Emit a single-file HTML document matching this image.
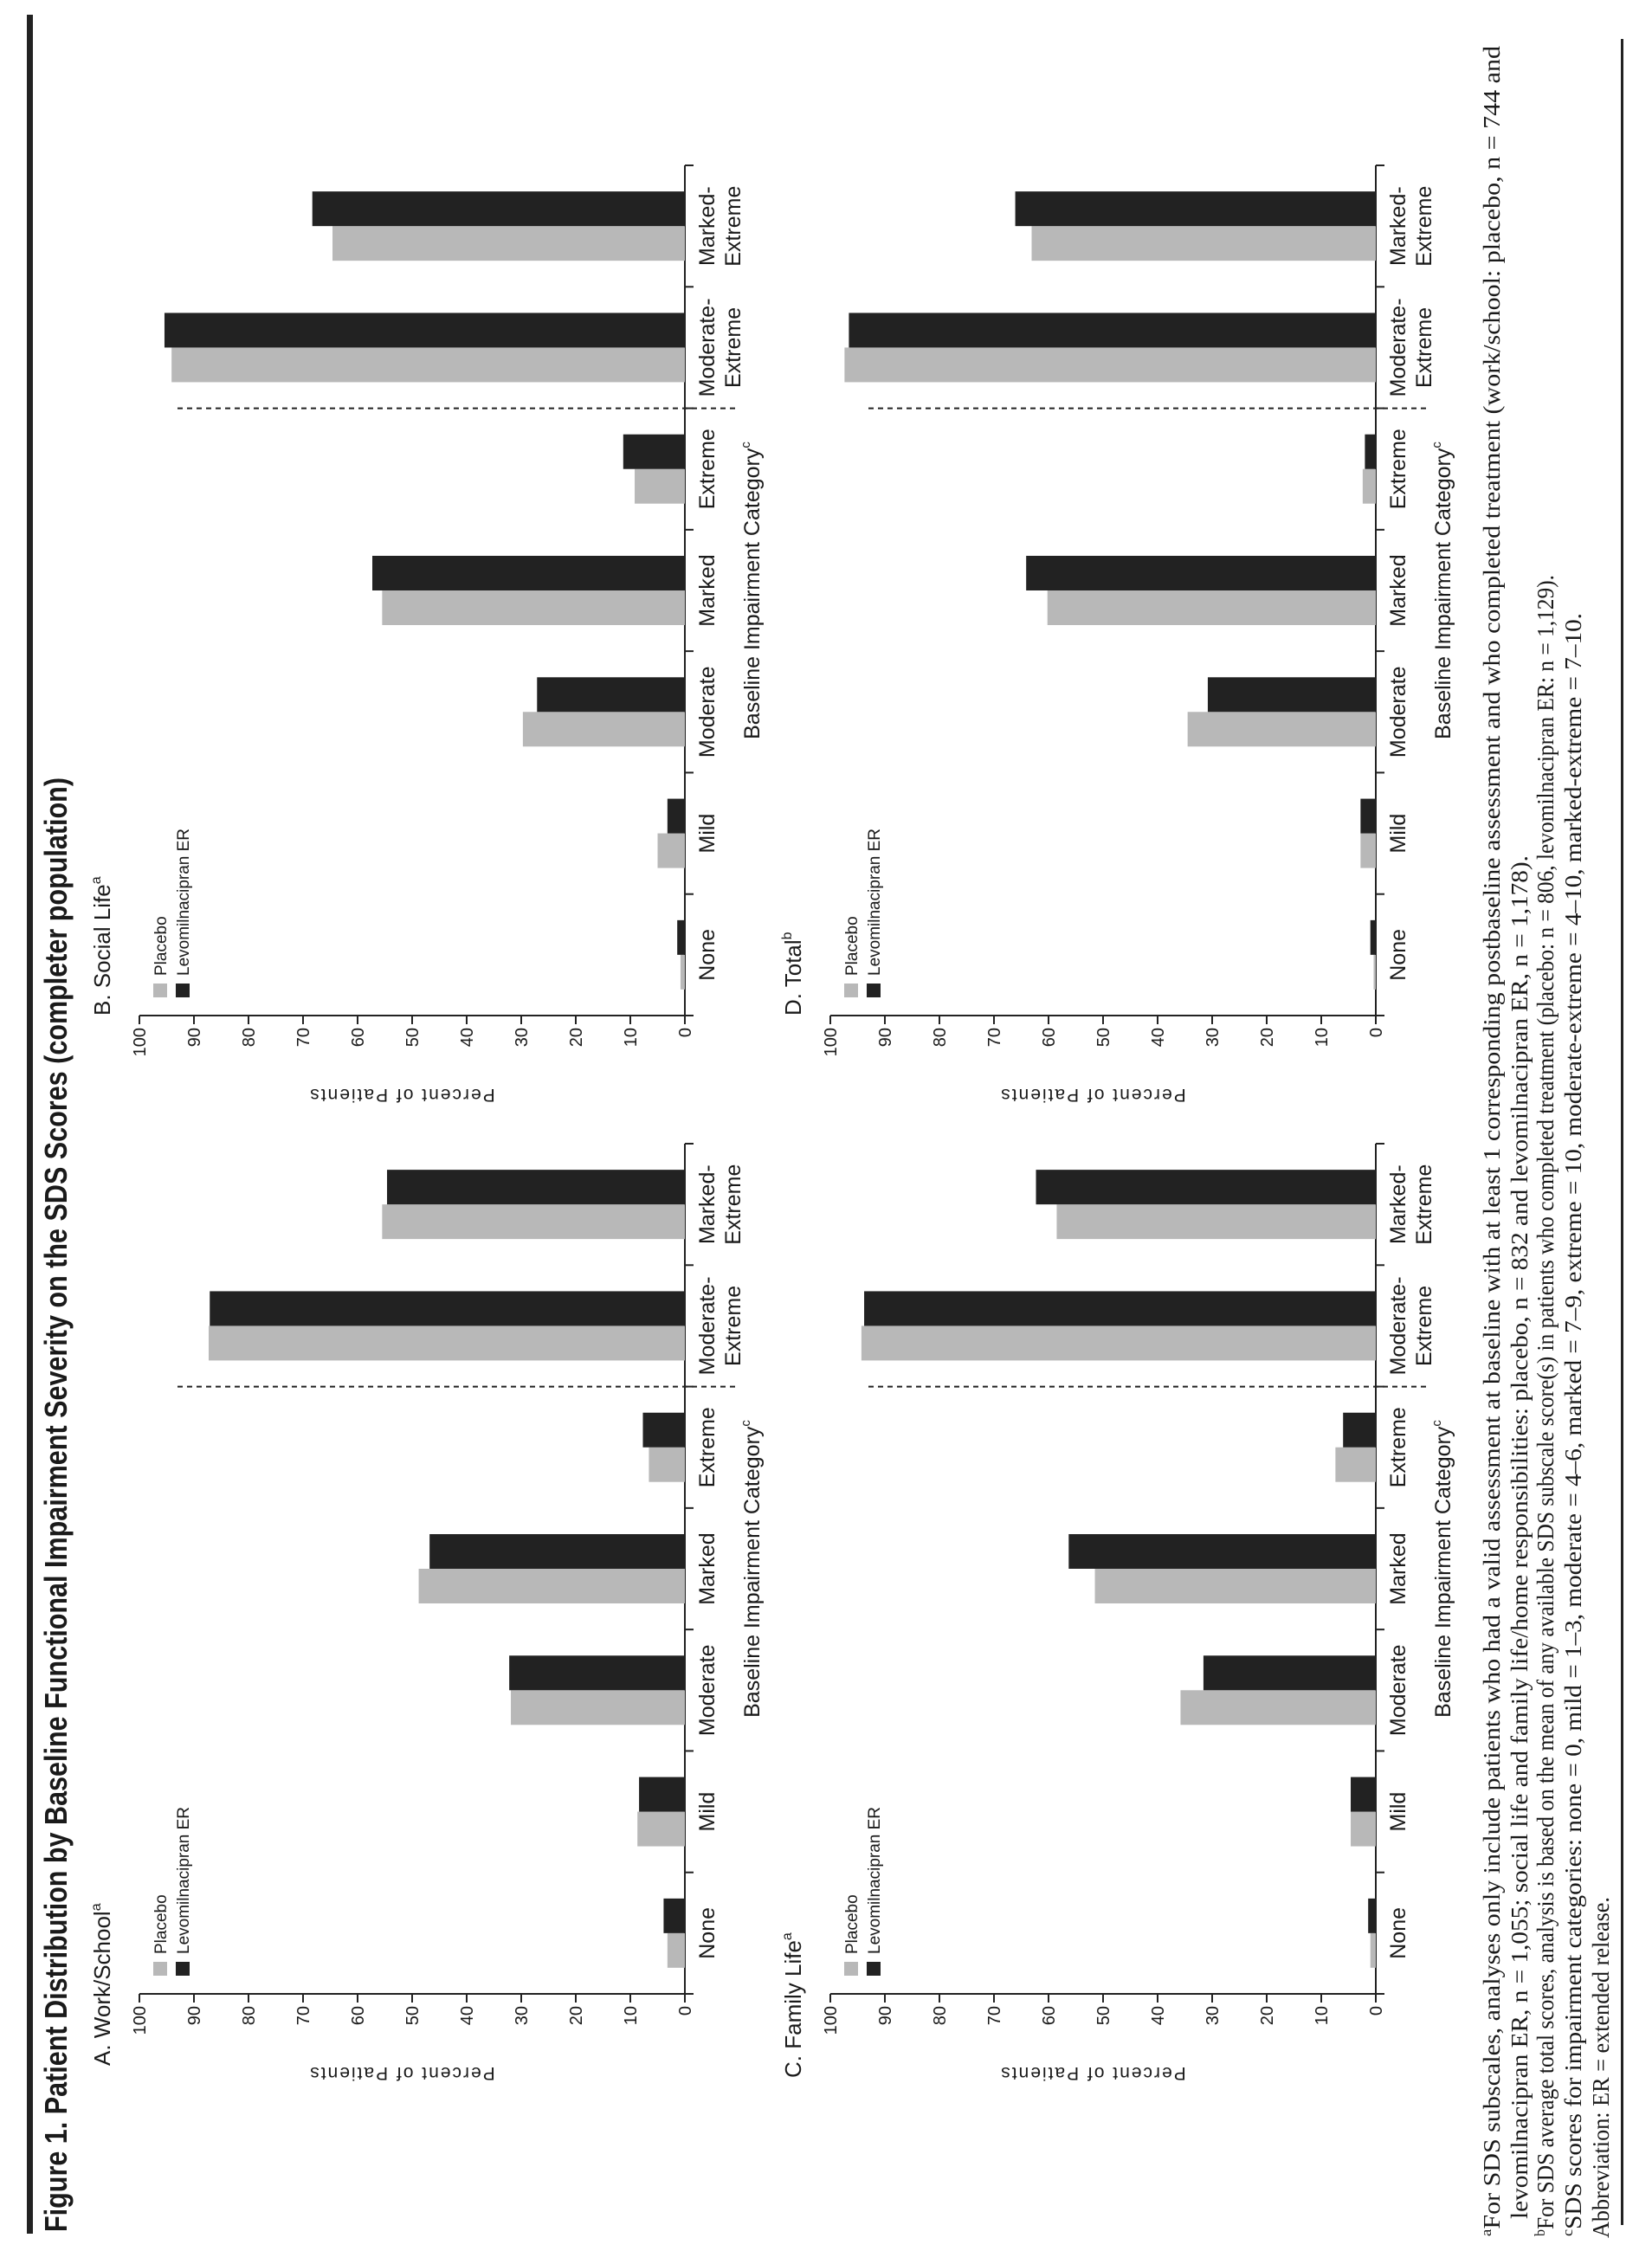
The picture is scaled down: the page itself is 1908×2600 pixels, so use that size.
<!DOCTYPE html>
<html><head><meta charset="utf-8"><style>
html,body{margin:0;padding:0;background:#fff;}
svg{display:block;}
text{font-family:"Liberation Sans",sans-serif;fill:#1a1a1a;}
.fn{font-family:"Liberation Serif",serif;font-size:27px;}
</style></head><body>
<svg id="fig" width="1908" height="2600" viewBox="0 0 1908 2600" xmlns="http://www.w3.org/2000/svg">
<g id="root" transform="matrix(0,-1,1,0,0,2600)">
<rect x="20" y="31" width="2563" height="7" fill="#222"/>
<text x="22" y="77" font-size="36" font-weight="bold" textLength="1680" lengthAdjust="spacingAndGlyphs">Figure 1. Patient Distribution by Baseline Functional Impairment Severity on the SDS Scores (completer population)</text>
<g>
<text class="fn" x="17" y="1732" textLength="2530" lengthAdjust="spacingAndGlyphs"><tspan font-size="17" dy="-10">a</tspan><tspan dy="10">For SDS subscales, analyses only include patients who had a valid assessment at baseline with at least 1 corresponding postbaseline assessment and who completed treatment (work/school: placebo, n = 744 and</tspan></text>
<text class="fn" x="37" y="1764" textLength="1575" lengthAdjust="spacingAndGlyphs">levomilnacipran ER, n = 1,055; social life and family life/home responsibilities: placebo, n = 832 and levomilnacipran ER, n = 1,178).</text>
<text class="fn" x="17" y="1794" textLength="1919" lengthAdjust="spacingAndGlyphs"><tspan font-size="17" dy="-10">b</tspan><tspan dy="10">For SDS average total scores, analysis is based on the mean of any available SDS subscale score(s) in patients who completed treatment (placebo: n = 806, levomilnacipran ER: n = 1,129).</tspan></text>
<text class="fn" x="17" y="1826" textLength="1875" lengthAdjust="spacingAndGlyphs"><tspan font-size="17" dy="-10">c</tspan><tspan dy="10">SDS scores for impairment categories: none = 0, mild = 1–3, moderate = 4–6, marked = 7–9, extreme = 10, moderate-extreme = 4–10, marked-extreme = 7–10.</tspan></text>
<text class="fn" x="15" y="1858" textLength="394" lengthAdjust="spacingAndGlyphs">Abbreviation: ER = extended release.</text>
</g>
<rect x="30" y="1872" width="2525" height="3" fill="#222"/>
</g>
</svg>
<script>
const categories = ["None","Mild","Moderate","Marked","Extreme","Moderate-|Extreme","Marked-|Extreme"];
const yTicks = [0,10,20,30,40,50,60,70,80,90,100];
const seriesNames = ["Placebo","Levomilnacipran ER"];
const workPlacebo = [3.2,8.7,31.9,48.8,6.6,87.3,55.5];
const workLevo = [3.9,8.4,32.2,46.8,7.7,87.1,54.6];
const socialPlacebo = [0.8,5.0,29.7,55.5,9.2,94.1,64.6];
const socialLevo = [1.4,3.2,27.1,57.3,11.3,95.4,68.3];
const familyPlacebo = [1.0,4.6,35.8,51.5,7.4,94.3,58.5];
const familyLevo = [1.4,4.6,31.6,56.3,6.0,93.8,62.3];
const totalPlacebo = [0.4,2.8,34.5,60.2,2.4,97.4,63.1];
const totalLevo = [1.0,2.8,30.8,64.1,2.0,96.6,66.1];

const NS = "http://www.w3.org/2000/svg";
const root = document.getElementById('root');
function mk(tag, attrs, parent){const e=document.createElementNS(NS,tag);for(const k in attrs)e.setAttribute(k,attrs[k]);(parent||root).appendChild(e);return e;}

const panels = [
 {id:"work-school", title:"A. Work/School", sup:"a", u0:297, v0:791, titleU:214, p:workPlacebo, l:workLevo},
 {id:"social-life", title:"B. Social Life", sup:"a", u0:1427, v0:791, titleU:1427, p:socialPlacebo, l:socialLevo},
 {id:"family-life", title:"C. Family Life", sup:"a", u0:297, v0:1589, titleU:200, p:familyPlacebo, l:familyLevo},
 {id:"total", title:"D. Total", sup:"b", u0:1427, v0:1589, titleU:1427, p:totalPlacebo, l:totalLevo}
];
const AXLEN = 982, VSPAN = 630;
panels.forEach(pn => {
  const g = mk('g',{});
  
  
  const band = AXLEN / categories.length;
  const xs = i => pn.u0 + band*(i+0.5);
  const ys = val => pn.v0 - val/100*VSPAN;
  const t = mk('text',{x:pn.titleU, y:pn.v0-664, 'font-size':26}, g);
  
  
  t.textContent = pn.title;
  const ts = mk('tspan',{'font-size':16, dy:-11}, t); ts.textContent = pn.sup;
  const colors = ["#b8b8b8","#222"];
  seriesNames.forEach((s,k)=>{
    const r = mk('rect',{x:pn.u0+21, y:pn.v0-614+k*26, width:16, height:16, fill:colors[k]}, g);
    
    
    const lt = mk('text',{x:pn.u0+46, y:pn.v0-599+k*26, 'font-size':19}, g);
    
    
    lt.textContent = s;
  });
  const va = mk('line',{x1:pn.u0, y1:pn.v0, x2:pn.u0, y2:ys(100), stroke:'#222','stroke-width':2}, g);
  
  
  yTicks.forEach(tv=>{
    mk('line',{x1:pn.u0-10, y1:ys(tv), x2:pn.u0, y2:ys(tv), stroke:'#222','stroke-width':2}, g);
    const tl = mk('text',{x:pn.u0-14, y:ys(tv)+7, 'font-size':20, 'text-anchor':'end'}, g);
    
    
    tl.textContent = tv;
  });
  const yt = mk('text',{x:0, y:0, 'font-size':21, 'letter-spacing':'2', 'text-anchor':'middle', transform:`translate(${pn.u0-85},${pn.v0-327}) rotate(-90)`}, g);
  
  
  yt.textContent = "Percent of Patients";
  const ca = mk('line',{x1:pn.u0, y1:pn.v0, x2:pn.u0+AXLEN, y2:pn.v0, stroke:'#222','stroke-width':2}, g);
  
  
  for(let i=0;i<=categories.length;i++){
    mk('line',{x1:pn.u0+band*i, y1:pn.v0, x2:pn.u0+band*i, y2:pn.v0+10, stroke:'#222','stroke-width':2}, g);
  }
  categories.forEach((c,i)=>{
    c.split('|').forEach((part,j)=>{
      const cl = mk('text',{x:xs(i), y:pn.v0+34+j*30, 'font-size':25, 'text-anchor':'middle'}, g);
      
      
      cl.textContent = part;
    });
    const bp = mk('rect',{x:xs(i)-40, y:ys(pn.p[i]), width:40, height:pn.v0-ys(pn.p[i]), fill:'#b8b8b8'}, g);
    
    
    const bl = mk('rect',{x:xs(i), y:ys(pn.l[i]), width:40, height:pn.v0-ys(pn.l[i]), fill:'#222'}, g);
    
    
  });
  const dl = mk('line',{x1:pn.u0+band*5, y1:pn.v0-586, x2:pn.u0+band*5, y2:pn.v0+61, stroke:'#222','stroke-width':2,'stroke-dasharray':'6,5'}, g);
  
  
  const at = mk('text',{x:pn.u0+AXLEN/2, y:pn.v0+86, 'font-size':25, 'text-anchor':'middle'}, g);
  
  
  at.textContent = "Baseline Impairment Category";
  const as = mk('tspan',{'font-size':15, dy:-11}, at); as.textContent = "c";
});
</script>
</body></html>
